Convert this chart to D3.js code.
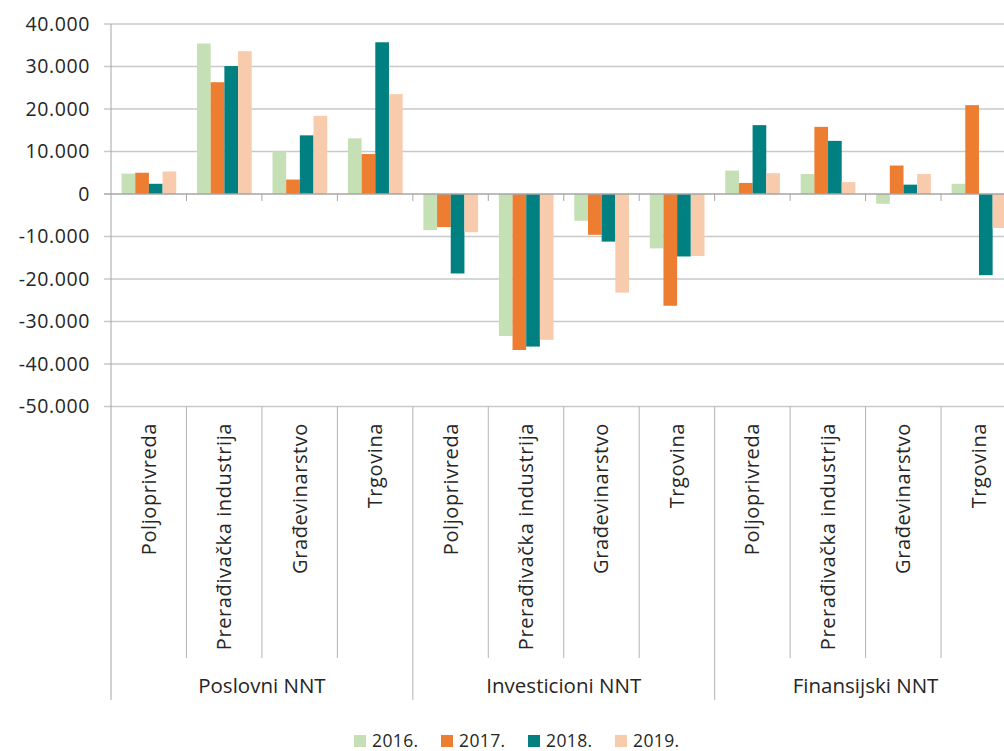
<!DOCTYPE html>
<html>
<head>
<meta charset="utf-8">
<script src="https://cdn.jsdelivr.net/npm/d3@7"></script>
<style>
  html, body { margin: 0; padding: 0; background: #fff; overflow: hidden; }
  svg { display: block; }
  text { fill: #262626; }
</style>
</head>
<body>
<svg id="chart" width="1004" height="751"></svg>
<script>
const groups = ["Poslovni NNT", "Investicioni NNT", "Finansijski NNT"];
const sectors = ["Poljoprivreda", "Prerađivačka industrija", "Građevinarstvo", "Trgovina"];
const years = ["2016.", "2017.", "2018.", "2019."];
const v2016 = [4800, 35400, 10000, 13100, -8500, -33400, -6300, -12800, 5500, 4700, -2300, 2400];
const v2017 = [5000, 26300, 3400, 9400, -7800, -36700, -9600, -26300, 2600, 15800, 6700, 20900];
const v2018 = [2400, 30100, 13800, 35700, -18700, -35900, -11200, -14700, 16200, 12500, 2200, -19100];
const v2019 = [5300, 33600, 18400, 23500, -9000, -34300, -23200, -14600, 4900, 2800, 4700, -8000];
const yTicks = [40000, 30000, 20000, 10000, 0, -10000, -20000, -30000, -40000, -50000];
const colors = ["#c5e0b4", "#ed7d31", "#008080", "#f8cbad"];

(function () {
const series = [v2016, v2017, v2018, v2019];
const cats = [];
groups.forEach((g, gi) => sectors.forEach((s, si) => cats.push({ id: gi + "|" + si, group: g, sector: s, idx: gi * 4 + si })));

const svg = d3.select("#chart");
const FONT = "'Open Sans', sans-serif";

const pLeft = 111, pRight = 1016.5, pTop = 24, pBottom = 406.5;
const x = d3.scaleBand().domain(cats.map(c => c.id)).range([pLeft, pRight]).padding(0);
const bw = x.bandwidth();
const xi = d3.scaleBand().domain(years).range([bw * 0.14, bw * 0.865]).padding(0);
const y = d3.scaleLinear().domain([-50000, 40000]).range([pBottom, pTop]);

const loc = d3.formatLocale({ decimal: ",", thousands: ".", grouping: [3], currency: ["", ""], minus: "-" });
const fmt = loc.format(",");

const gy = svg.append("g").attr("transform", `translate(${pLeft - 7},0)`);
gy.call(d3.axisLeft(y).tickValues(yTicks).tickSize(0).tickFormat(fmt).tickPadding(14));
gy.select(".domain").remove();
gy.selectAll(".tick text").attr("font-family", FONT).attr("font-size", 19.5).attr("fill", "#262626").attr("letter-spacing", "0.6px");

svg.append("g").selectAll("line").data(yTicks.filter(t => t !== 0)).join("line")
  .attr("x1", pLeft - 7).attr("x2", 1004)
  .attr("y1", d => y(d)).attr("y2", d => y(d))
  .attr("stroke", "#c9c9c9").attr("stroke-width", 1.5);

// bars
const barG = svg.append("g");
series.forEach((vals, si) => {
  barG.selectAll(null).data(cats).join("rect")
    .attr("x", c => x(c.id) + xi(years[si]))
    .attr("width", xi.bandwidth())
    .attr("y", c => y(Math.max(0, vals[c.idx])))
    .attr("height", c => Math.abs(y(vals[c.idx]) - y(0)))
    .attr("fill", colors[si]);
});

// zero line
svg.append("line").attr("x1", pLeft - 7).attr("x2", 1004).attr("y1", y(0)).attr("y2", y(0))
  .attr("stroke", "#a6a6a6").attr("stroke-width", 1.5);

// category ticks on zero line
svg.append("g").selectAll("line").data(cats.slice(1)).join("line")
  .attr("x1", c => x(c.id)).attr("x2", c => x(c.id))
  .attr("y1", y(0)).attr("y2", y(0) + 7)
  .attr("stroke", "#a6a6a6").attr("stroke-width", 1);

// left axis line
svg.append("line").attr("x1", pLeft).attr("x2", pLeft).attr("y1", pTop).attr("y2", 700)
  .attr("stroke", "#a6a6a6").attr("stroke-width", 1);

// category separators below axis
svg.append("g").selectAll("line").data(cats.slice(1)).join("line")
  .attr("x1", c => x(c.id)).attr("x2", c => x(c.id))
  .attr("y1", pBottom).attr("y2", c => (c.idx % 4 === 0) ? 700 : 658)
  .attr("stroke", "#b4b4b4").attr("stroke-width", 1);

// category labels
svg.append("g").selectAll("text").data(cats).join("text")
  .attr("transform", c => `translate(${x(c.id) + bw / 2 + 7},423) rotate(-90)`)
  .attr("text-anchor", "end")
  .attr("font-family", FONT).attr("font-size", 20).attr("letter-spacing", "0.6px")
  .text(c => c.sector);

// group labels
svg.append("g").selectAll("text").data(groups).join("text")
  .attr("x", (g, gi) => (x(cats[gi * 4].id) + x(cats[gi * 4 + 3].id) + bw) / 2)
  .attr("y", 693)
  .attr("text-anchor", "middle")
  .attr("font-family", FONT).attr("font-size", 20.5)
  .text(g => g);

// legend
const lg = svg.append("g").attr("transform", "translate(354,735)");
const li = lg.selectAll("g").data(years).join("g").attr("transform", (d, i) => `translate(${i * 87},0)`);
li.append("rect").attr("width", 12).attr("height", 12).attr("fill", (d, i) => colors[i]);
li.append("text").attr("x", 18).attr("y", 12).attr("font-family", FONT).attr("font-size", 17.5).attr("letter-spacing", "0.4px").text(d => d);
})();
</script>
</body>
</html>
